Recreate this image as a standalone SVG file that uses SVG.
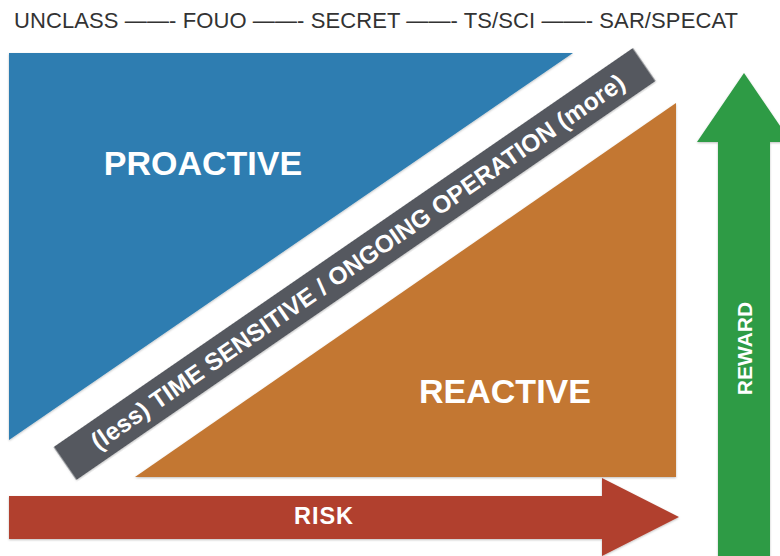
<svg xmlns="http://www.w3.org/2000/svg" width="780" height="556" viewBox="0 0 780 556">
  <defs>
    <filter id="shade" x="-5%" y="-5%" width="110%" height="110%">
      <feDropShadow dx="0" dy="1" stdDeviation="1" flood-color="#000" flood-opacity="0.25"/>
    </filter>
    <style>
      .scale { font-family: "Liberation Sans", Arial, sans-serif; font-size: 22px; fill: #333; }
      .big { font-family: "Liberation Sans", Arial, sans-serif; font-weight: bold; font-size: 34px; fill: #fff; text-anchor: middle; }
      .label { font-family: "Liberation Sans", Arial, sans-serif; font-weight: bold; fill: #fff; text-anchor: middle; }
      .panel { filter: url(#shade); }
    </style>
  </defs>
  <rect width="780" height="556" fill="#fff"/>

  <!-- classification scale across the top -->
  <g id="classification">
    <text class="scale" x="14" y="28" textLength="724" lengthAdjust="spacing">UNCLASS ——- FOUO ——- SECRET ——- TS/SCI ——- SAR/SPECAT</text>
  </g>

  <!-- upper-left wedge -->
  <g id="proactive">
    <polygon class="panel" points="9,53 573,53 9,440" fill="#2d7db1"/>
    <text class="big" x="203" y="175">PROACTIVE</text>
  </g>

  <!-- lower-right wedge -->
  <g id="reactive">
    <polygon class="panel" points="135,477 676,477 676,103" fill="#c37731"/>
    <text class="big" x="505" y="403">REACTIVE</text>
  </g>

  <!-- diagonal band between the wedges -->
  <g id="timeline" transform="translate(354.6,264) rotate(-34.56)">
    <rect class="panel" x="-351.5" y="-20" width="703" height="40" fill="#54585e"/>
    <text class="label" x="4" y="8.5" font-size="24.5" textLength="642" lengthAdjust="spacing">(less) TIME SENSITIVE / ONGOING OPERATION (more)</text>
  </g>

  <g id="connectors">
    <!-- horizontal risk arrow -->
    <g id="risk">
      <polygon class="panel" points="9,496 602,496 602,478 679,517 602,556 602,539 9,539" fill="#b1412f"/>
      <text class="label" x="323.5" y="524" font-size="23.5" textLength="59" lengthAdjust="spacing">RISK</text>
    </g>
    <!-- vertical reward arrow -->
    <g id="reward">
      <polygon class="panel" points="718,560 718,142 697,142 744,73 791,142 770,142 770,560" fill="#2f9b45"/>
      <text class="label" transform="translate(752,348.5) rotate(-90)" x="0" y="0" font-size="21">REWARD</text>
    </g>
  </g>
</svg>
